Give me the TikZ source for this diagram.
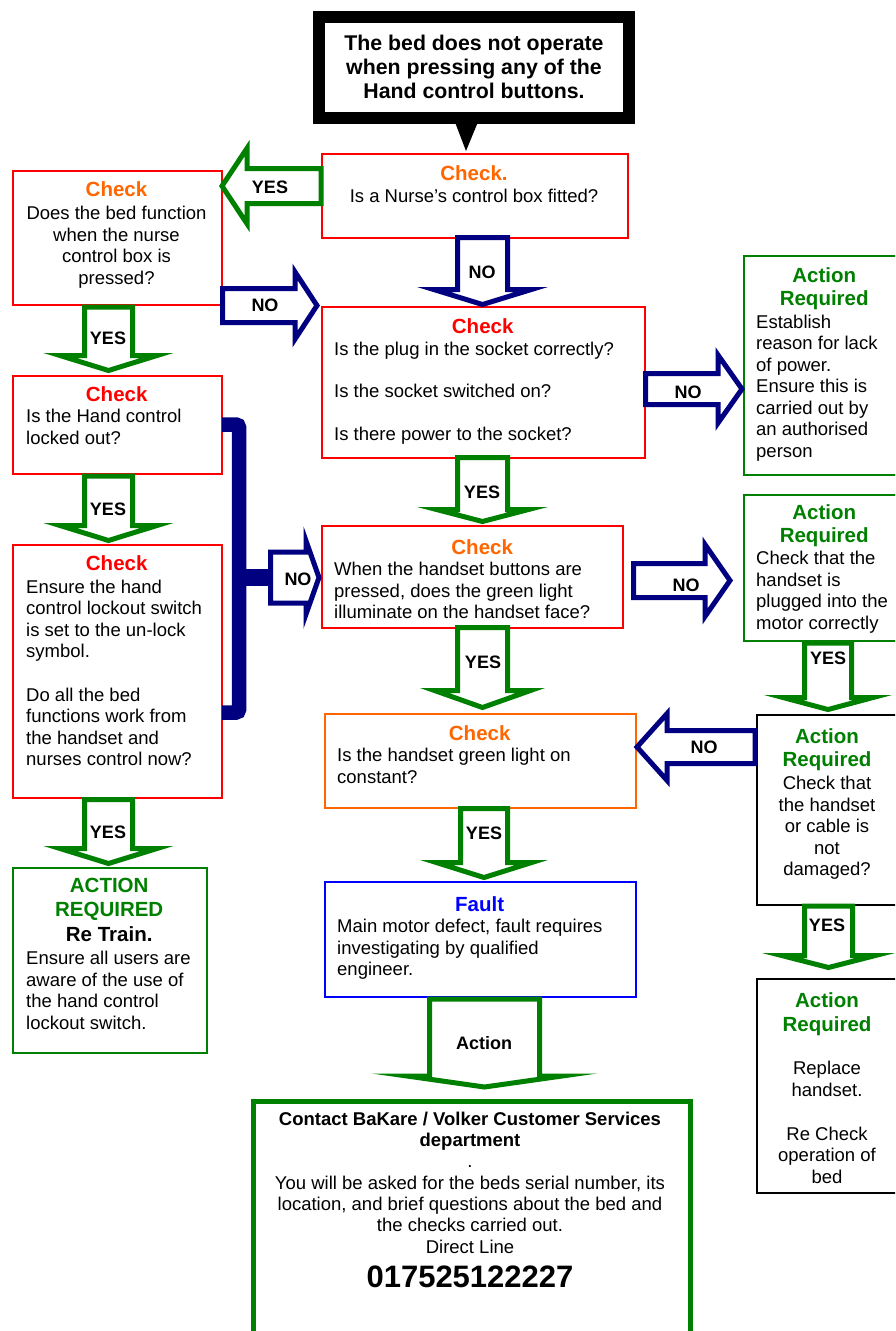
\documentclass[tikz,border=0pt]{standalone}
\usepackage{fontspec}
\setmainfont{Liberation Sans}
\usetikzlibrary{calc}
\definecolor{cred}{RGB}{255,0,0}
\definecolor{corange}{RGB}{255,102,0}
\definecolor{cgreen}{RGB}{0,128,0}
\definecolor{cnavy}{RGB}{0,0,128}
\definecolor{cblue}{RGB}{0,0,255}
\newcommand\bodyfont{\fontsize{18.5}{21.5}\selectfont}
\newcommand\hd[2]{{\fontsize{20.5}{21.5}\selectfont\bfseries\color{#1}#2}}
% block arrow: #1 start, #2 tip, #3 body half width, #4 head half width, #5 head length, #6 style
\newcommand\blockarrow[6]{%
  \coordinate (bH) at ($(#2)!#5pt!(#1)$);
  \draw[#6] ($(#1)!#3pt!-90:(#2)$) -- ($(bH)!#3pt!-90:(#2)$) -- ($(bH)!#4pt!-90:(#2)$)
    -- (#2) -- ($(bH)!#4pt!90:(#2)$) -- ($(bH)!#3pt!90:(#2)$) -- ($(#1)!#3pt!90:(#2)$) -- cycle;}
\tikzset{
  box/.style={draw=#1, line width=2pt, fill=white, rectangle, inner sep=0pt, anchor=north west},
  txt/.style={inner sep=0pt, font=\bodyfont},
  lbl/.style={inner sep=0pt, font=\fontsize{18}{20}\selectfont\bfseries},
  garrow/.style={draw=cgreen, line width=5pt, fill=white, miter limit=20},
  narrow/.style={draw=cnavy, line width=5pt, fill=white, miter limit=20},
}
\begin{document}
\begin{tikzpicture}[x=1pt,y=-1pt]
\clip (0,0) rectangle (895,1331);
\fill[white] (0,0) rectangle (895,1331);

% callout
\node[draw=black, line width=12pt, fill=white, inner sep=0pt, minimum width=309.5pt, minimum height=101.5pt] (top) at (473.75,67.25) {};
\fill[black] (453,117) -- (480,117) -- (466,151) -- cycle;

% boxes
\node[box=cred, minimum width=306pt, minimum height=84pt] (n1) at (321,153) {};
\node[box=cred, minimum width=209pt, minimum height=134pt] (l1) at (12,170) {};
\node[box=cred, minimum width=323pt, minimum height=151pt] (n2) at (321,306) {};
\node[box=cgreen, minimum width=170pt, minimum height=219pt] (a1) at (743,255) {};
\node[box=cred, minimum width=209pt, minimum height=98pt] (l2) at (12,375) {};
\node[box=cred, minimum width=209pt, minimum height=253pt] (l3) at (12,544) {};
\node[box=cgreen, minimum width=194pt, minimum height=185pt] (l4) at (12,867) {};
\node[box=cred, minimum width=301pt, minimum height=102pt] (n3) at (321,525) {};
\node[box=cgreen, minimum width=170pt, minimum height=146pt] (a2) at (743,494) {};
\node[box=black, minimum width=160pt, minimum height=190pt] (a3) at (756,714) {};
\node[box=corange, minimum width=311pt, minimum height=94pt] (n4) at (324,713) {};
\node[box=cblue, minimum width=311pt, minimum height=115pt] (n5) at (324,881) {};
\node[box=black, minimum width=160pt, minimum height=214pt] (a4) at (756,978) {};
\node[box=cgreen, line width=5pt, minimum width=437pt, minimum height=260pt] (c) at (250.5,1098.5) {};

% connector end points
\coordinate (s1) at (321,186);   \coordinate (t1) at (222,186);
\coordinate (s2) at (222.5,305.5); \coordinate (t2) at (317,305.5);
\coordinate (s3) at (482.5,237.5); \coordinate (t3) at (482.5,304.5);
\coordinate (s4) at (108.5,307); \coordinate (t4) at (108.5,370.5);
\coordinate (s5) at (108.5,476); \coordinate (t5) at (108.5,540.5);
\coordinate (s6) at (108.5,799.5); \coordinate (t6) at (108.5,863.5);
\coordinate (s7) at (645.5,389); \coordinate (t7) at (742,389);
\coordinate (s8) at (482.5,457.5); \coordinate (t8) at (482.5,521.5);
\coordinate (s9) at (270.5,577.5); \coordinate (t9) at (319,577.5);
\coordinate (s10) at (633.5,580.5); \coordinate (t10) at (730,580.5);
\coordinate (s11) at (482.5,627.5); \coordinate (t11) at (482.5,707.5);
\coordinate (s12) at (828,643); \coordinate (t12) at (828,709.5);
\coordinate (s13) at (755,747); \coordinate (t13) at (637,747);
\coordinate (s14) at (484,808.5); \coordinate (t14) at (484,877.5);
\coordinate (s15) at (828.5,906); \coordinate (t15) at (828.5,967.5);
\coordinate (s16) at (484.5,999); \coordinate (t16) at (484.5,1087);
\coordinate (bt) at (222,424.5); \coordinate (bb) at (222,712.5);

% bracket
\draw[cnavy, line width=14.5pt, rounded corners=3pt] (bt) -- (239,424.5) -- (239,712.5) -- (bb);
\draw[cnavy, line width=17pt] (239,577.5) -- (s9);

% block arrows
\blockarrow{s1}{t1}{17.5}{37.7}{25}{garrow}
\blockarrow{s2}{t2}{17}{33.6}{22}{narrow}
\blockarrow{s3}{t3}{25}{48.8}{15}{narrow}
\blockarrow{s4}{t4}{24}{48.5}{15}{garrow}
\blockarrow{s5}{t5}{24}{48.5}{15}{garrow}
\blockarrow{s6}{t6}{24}{48.5}{15}{garrow}
\blockarrow{s7}{t7}{15.5}{34}{24}{narrow}
\blockarrow{s8}{t8}{25}{46}{12}{garrow}
\blockarrow{s9}{t9}{25.5}{36.7}{13}{narrow}
\blockarrow{s10}{t10}{17}{36}{25}{narrow}
\blockarrow{s11}{t11}{25}{48}{17}{garrow}
\blockarrow{s12}{t12}{23.5}{45}{12}{garrow}
\blockarrow{s13}{t13}{16.5}{33.4}{30}{narrow}
\blockarrow{s14}{t14}{23.5}{47.7}{15}{garrow}
\blockarrow{s15}{t15}{24}{46.8}{12}{garrow}
\blockarrow{s16}{t16}{55}{77.5}{11}{garrow}

% arrow labels
\node[lbl] (y1) at (270,187) {YES};
\node[lbl] (no1) at (265,305) {NO};
\node[lbl] (no2) at (482,272) {NO};
\node[lbl] (y2) at (108,338) {YES};
\node[lbl] (y3) at (108,509) {YES};
\node[lbl] (y4) at (108,832) {YES};
\node[lbl] (no3) at (298,579) {NO};
\node[lbl] (no4) at (688,392) {NO};
\node[lbl] (y5) at (482,492) {YES};
\node[lbl] (no5) at (686,585) {NO};
\node[lbl] (y6) at (483,662) {YES};
\node[lbl] (y7) at (828,658) {YES};
\node[lbl] (no6) at (704,747) {NO};
\node[lbl] (y8) at (484,833) {YES};
\node[lbl] (y9) at (827,925) {YES};
\node[lbl] (act) at (484,1043) {Action};

% texts
\node[inner sep=0pt, anchor=north, align=center, font=\fontsize{21.3}{24}\selectfont\bfseries] (toptxt) at (474,34.7)
  {The bed does not operate\\when pressing any of the\\Hand control buttons.};
\node[txt, anchor=north, align=center] (n1t) at (474,165)
  {\hd{corange}{Check.}\\[0.5pt]Is a Nurse’s control box fitted?};
\node[txt, anchor=north, align=center] (l1t) at (116.5,181)
  {\hd{corange}{Check}\\[2pt]Does the bed function\\when the nurse\\control box is\\pressed?};
\node[txt, anchor=north west, align=left] (l2t) at (26,386)
  {\makebox[181pt]{\hd{cred}{Check}}\\[0pt]Is the Hand control\\locked out?};
\node[txt, anchor=north west, align=left] (l3t) at (26,555)
  {\makebox[181pt]{\hd{cred}{Check}}\\[1.5pt]Ensure the hand\\control lockout switch\\is set to the un-lock\\symbol.\\[22pt]Do all the bed\\functions work from\\the handset and\\nurses control now?};
\node[txt, anchor=north west, align=left] (l4t) at (26,878.3)
  {\makebox[166pt]{\hd{cgreen}{ACTION}}\\[2.5pt]\makebox[166pt]{\hd{cgreen}{REQUIRED}}\\[3.5pt]\makebox[166pt]{\hd{black}{Re Train.}}\\[1.5pt]Ensure all users are\\aware of the use of\\the hand control\\lockout switch.};
\node[txt, anchor=north west, align=left] (n2t) at (334,318)
  {\makebox[297pt]{\hd{cred}{Check}}\\[0.5pt]Is the plug in the socket correctly?\\[21pt]Is the socket switched on?\\[21pt]Is there power to the socket?};
\node[txt, anchor=north west, align=left] (a1t) at (756,267.3)
  {\makebox[136pt]{\hd{cgreen}{Action}}\\[1.5pt]\makebox[136pt]{\hd{cgreen}{Required}}\\[1.5pt]Establish\\reason for lack\\of power.\\Ensure this is\\carried out by\\an authorised\\person};
\node[txt, anchor=north west, align=left] (n3t) at (334,539)
  {\makebox[296pt]{\hd{corange}{Check}}\\[0pt]When the handset buttons are\\pressed, does the green light\\illuminate on the handset face?};
\node[txt, anchor=north west, align=left] (a2t) at (756,504.3)
  {\makebox[136pt]{\hd{cgreen}{Action}}\\[2pt]\makebox[136pt]{\hd{cgreen}{Required}}\\[0.5pt]Check that the\\handset is\\plugged into the\\motor correctly};
\node[txt, anchor=north, align=center] (a3t) at (827,728.3)
  {\hd{cgreen}{Action}\\[2pt]\hd{cgreen}{Required}\\[1.5pt]Check that\\the handset\\or cable is\\not\\damaged?};
\node[txt, anchor=north west, align=left] (n4t) at (337,725)
  {\makebox[285pt]{\hd{corange}{Check}}\\[0pt]Is the handset green light on\\constant?};
\node[txt, anchor=north west, align=left] (n5t) at (337,896)
  {\makebox[285pt]{\hd{cblue}{Fault}}\\[0pt]Main motor defect, fault requires\\investigating by qualified\\engineer.};
\node[txt, anchor=north, align=center] (a4t) at (827,992.3)
  {\hd{cgreen}{Action}\\[3pt]\hd{cgreen}{Required}\\[21.5pt]Replace\\handset.\\[22.5pt]Re Check\\operation of\\bed};
\node[inner sep=0pt, anchor=north, align=center, font=\fontsize{18.5}{21.3}\selectfont] (ct) at (470,1111.6)
  {{\bfseries Contact BaKare / Volker Customer Services}\\{\bfseries department}\\.\\You will be asked for the beds serial number, its\\location, and brief questions about the bed and\\the checks carried out.\\Direct Line\\[12pt]{\fontsize{31}{31}\selectfont\bfseries 017525122227}};
\end{tikzpicture}
\end{document}
